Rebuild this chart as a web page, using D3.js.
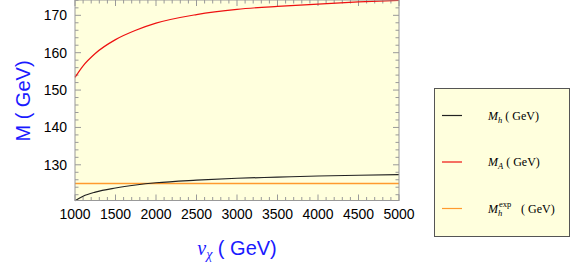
<!DOCTYPE html>
<html>
<head>
<meta charset="utf-8">
<script src="https://cdn.jsdelivr.net/npm/d3@7"></script>
<style>
  body { margin: 0; background: #fff; }
  svg { display: block; }
</style>
</head>
<body>
<script>
// values
var vchi = [1000, 1100, 1250, 1500, 1750, 2000, 2500, 3000, 3500, 4000, 4500, 5000];
var massH = [120.4, 121.6, 122.7, 123.8, 124.6, 125.2, 125.9, 126.4, 126.7, 127.0, 127.2, 127.35];
var massA = [153.4, 156.5, 159.8, 163.5, 166.0, 167.9, 170.2, 171.6, 172.4, 173.0, 173.6, 174.0];
var massHexp = [125, 125, 125, 125, 125, 125, 125, 125, 125, 125, 125, 125];
var xTicks = [1000, 1500, 2000, 2500, 3000, 3500, 4000, 4500, 5000];
var yTicks = [130, 140, 150, 160, 170];

// note: "top" is taken by window.top, so plot edges get their own names
var width = 581,
    height = 273,
    pLeft = 75, pRight = 399,
    pTop = 0, pBottom = 200.5;

var svg = d3.select("body").append("svg")
    .attr("width", width)
    .attr("height", height);

var x = d3.scaleLinear().domain([1000, 5000]).range([pLeft, pRight]);
var y = d3.scaleLinear().domain([120.45, 174.1]).range([pBottom, pTop]);

svg.append("rect")
    .attr("x", pLeft).attr("y", pTop)
    .attr("width", pRight - pLeft).attr("height", pBottom - pTop)
    .attr("fill", "#ffffdd");

// minor + major ticks on all four sides, pointing inward
var xMinor = d3.range(1000, 5001, 100);
var yMinor = d3.range(122, 174.1, 2);
var frame = svg.append("g").attr("stroke", "#999").attr("stroke-width", 1);

xMinor.forEach(function(v) {
    var major = v % 500 === 0, len = major ? 6 : 3.5;
    frame.append("line").attr("x1", x(v)).attr("x2", x(v)).attr("y1", pBottom).attr("y2", pBottom - len);
    frame.append("line").attr("x1", x(v)).attr("x2", x(v)).attr("y1", pTop).attr("y2", pTop + len);
});
yMinor.forEach(function(v) {
    var major = v % 10 === 0, len = major ? 6 : 3.5;
    frame.append("line").attr("y1", y(v)).attr("y2", y(v)).attr("x1", pLeft).attr("x2", pLeft + len);
    frame.append("line").attr("y1", y(v)).attr("y2", y(v)).attr("x1", pRight).attr("x2", pRight - len);
});

var line = d3.line()
    .x(function(d) { return x(d[0]); })
    .y(function(d) { return y(d[1]); })
    .curve(d3.curveMonotoneX);

var series = [
    { name: "exp", vals: massHexp, color: "#ff9a2e", w: 1.6 },
    { name: "h", vals: massH, color: "#222", w: 1.2 },
    { name: "A", vals: massA, color: "#ee1111", w: 1.2 }
];

svg.append("g")
  .selectAll("path")
  .data(series)
  .enter().append("path")
    .attr("d", function(s) { return line(vchi.map(function(v, i) { return [v, s.vals[i]]; })); })
    .attr("fill", "none")
    .style("stroke", function(s) { return s.color; })
    .attr("stroke-width", function(s) { return s.w; });

svg.append("rect")
    .attr("x", pLeft).attr("y", pTop)
    .attr("width", pRight - pLeft).attr("height", pBottom - pTop)
    .attr("fill", "none").attr("stroke", "#999");

// tick labels
svg.selectAll(".xl").data(xTicks).enter().append("text")
    .attr("x", function(d) { return x(d); })
    .attr("y", 219)
    .attr("text-anchor", "middle")
    .attr("font-family", "Liberation Sans, Arial, sans-serif")
    .attr("font-size", 14)
    .text(function(d) { return d; });

svg.selectAll(".yl").data(yTicks).enter().append("text")
    .attr("x", 67)
    .attr("y", function(d) { return y(d) + 5; })
    .attr("text-anchor", "end")
    .attr("font-family", "Liberation Sans, Arial, sans-serif")
    .attr("font-size", 14)
    .text(function(d) { return d; });

// axis titles
var xt = svg.append("text")
    .attr("x", (pLeft + pRight) / 2)
    .attr("y", 255)
    .attr("text-anchor", "middle")
    .attr("fill", "#1a1aff")
    .attr("font-family", "Liberation Sans, Arial, sans-serif")
    .attr("font-size", 20);
xt.append("tspan").attr("font-style", "italic").attr("font-family", "Liberation Serif, serif").text("v");
xt.append("tspan").attr("font-style", "italic").attr("font-family", "Liberation Serif, serif")
    .attr("font-size", 14).attr("dy", 4).text("χ");
xt.append("tspan").attr("dy", -4).text(" ( GeV)");

svg.append("text")
    .attr("transform", "translate(30,101) rotate(-90)")
    .attr("text-anchor", "middle")
    .attr("fill", "#1a1aff")
    .attr("font-family", "Liberation Sans, Arial, sans-serif")
    .attr("font-size", 20)
    .text("M ( GeV)");

// legend
var legend = svg.append("g");
legend.append("rect")
    .attr("x", 434.5).attr("y", 88.5)
    .attr("width", 135).attr("height", 148)
    .attr("fill", "#ffffdd")
    .attr("stroke", "#555");

var items = [
    { color: "#222", sub: "h", sup: null },
    { color: "#ee1111", sub: "A", sup: null },
    { color: "#ff9a2e", sub: "h", sup: "exp" }
];
var rowY = [115.5, 162, 208.5];

items.forEach(function(it, i) {
    var yy = rowY[i];
    legend.append("line")
        .attr("x1", 442).attr("x2", 462)
        .attr("y1", yy).attr("y2", yy)
        .attr("stroke", it.color).attr("stroke-width", 1.2);
    var t = legend.append("text")
        .attr("x", 488).attr("y", yy + 4)
        .attr("font-family", "Liberation Serif, Times New Roman, serif")
        .attr("font-size", 12);
    t.append("tspan").attr("font-style", "italic").text("M");
    if (it.sup) {
        t.append("tspan").attr("font-size", 8.5).attr("dx", 1).attr("dy", -6).text(it.sup);
        t.append("tspan").attr("font-style", "italic").attr("font-size", 8.5)
            .attr("x", 498).attr("dy", 9).text(it.sub);
        t.append("tspan").attr("x", 521).attr("dy", -3).text("( GeV)");
    } else {
        t.append("tspan").attr("font-style", "italic").attr("font-size", 8.5).attr("dy", 3).text(it.sub);
        t.append("tspan").attr("dy", -3).text(" ( GeV)");
    }
});
</script>
</body>
</html>
